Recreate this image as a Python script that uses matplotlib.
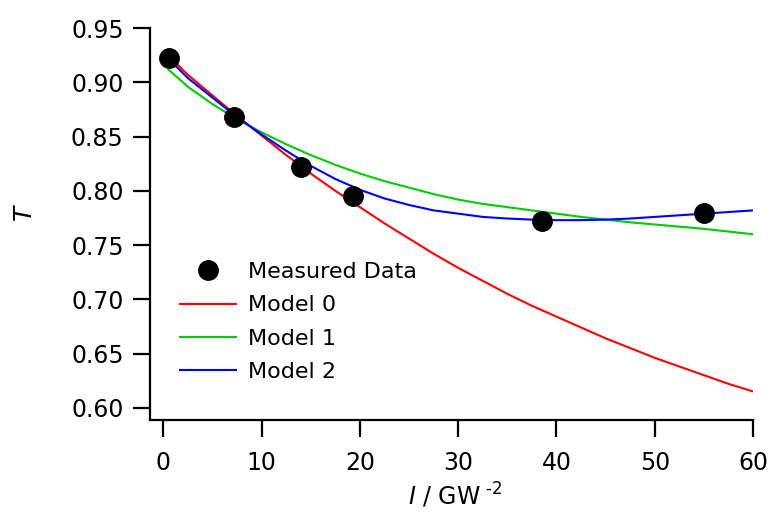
import matplotlib
matplotlib.use('Agg')
import matplotlib.pyplot as plt

# Measured points
meas_x = [0.6, 7.2, 14.0, 19.3, 38.5, 55.0]
meas_t = [0.923, 0.868, 0.822, 0.795, 0.772, 0.780]

# Model curves
model_x = [0.5, 2.5, 5, 7.5, 10, 12.5, 15, 17.5, 20, 22.5, 25, 27.5, 30, 32.5, 35,
           37.5, 40, 42.5, 45, 47.5, 50, 52.5, 55, 57.5, 60]
model0_t = [0.925, 0.907, 0.888, 0.869, 0.851, 0.833, 0.816, 0.800, 0.785, 0.770,
            0.756, 0.742, 0.729, 0.717, 0.705, 0.694, 0.684, 0.674, 0.664, 0.655,
            0.646, 0.638, 0.630, 0.622, 0.615]
model1_t = [0.912, 0.896, 0.880, 0.866, 0.854, 0.843, 0.833, 0.824, 0.816, 0.809,
            0.803, 0.797, 0.792, 0.788, 0.785, 0.782, 0.779, 0.776, 0.7735, 0.771,
            0.769, 0.767, 0.765, 0.7625, 0.760]
model2_t = [0.922, 0.904, 0.886, 0.868, 0.852, 0.837, 0.823, 0.811, 0.801, 0.793,
            0.787, 0.782, 0.779, 0.776, 0.7745, 0.7735, 0.773, 0.773, 0.7735, 0.7745,
            0.776, 0.7775, 0.779, 0.7805, 0.782]

plt.rcParams['font.family'] = 'DejaVu Sans'
plt.rcParams['font.size'] = 16

fig = plt.figure(figsize=(7.71, 5.16), dpi=100)
ax = fig.add_axes([0.1946, 0.1855, 0.7821, 0.7597])

l0, = ax.plot(model_x, model0_t, color='#ff0000', lw=1.5, label='Model 0')
l1, = ax.plot(model_x, model1_t, color='#00cc00', lw=1.5, label='Model 1')
l2, = ax.plot(model_x, model2_t, color='#0000ff', lw=1.5, label='Model 2')
pts, = ax.plot(meas_x, meas_t, 'o', color='black', ms=14, label='Measured Data', zorder=5)

ax.set_xlim(-1.36, 60)
ax.set_ylim(0.5884, 0.95)
ax.set_xticks(range(0, 61, 10))
ax.set_yticks([0.60, 0.65, 0.70, 0.75, 0.80, 0.85, 0.90, 0.95])
ax.set_yticklabels(['%.2f' % v for v in ax.get_yticks()])

for side in ['top', 'right']:
    ax.spines[side].set_visible(False)
for side in ['left', 'bottom']:
    ax.spines[side].set_linewidth(1.6)
ax.tick_params(direction='out', length=12, width=1.6, labelsize=17)
ax.tick_params(axis='y', pad=7)
ax.tick_params(axis='x', pad=10)

ax.set_xlabel(r'$\mathit{I}$ / GW$^{\ \text{-2}}$', fontsize=17)
ax.set_ylabel(r'$\mathit{T}$', fontsize=18)
ax.yaxis.set_label_coords(-0.188, 0.53)
ax.xaxis.set_label_coords(0.505, -0.155)

ax.legend(handles=[pts, l0, l1, l2], loc='upper left', frameon=False,
          bbox_to_anchor=(180 / 771, 1 - 262 / 516), bbox_transform=fig.transFigure,
          borderpad=0, borderaxespad=0, handlelength=2.5, handletextpad=0.55,
          labelspacing=0.6, fontsize=16)

fig.savefig('out.png', dpi=100)
